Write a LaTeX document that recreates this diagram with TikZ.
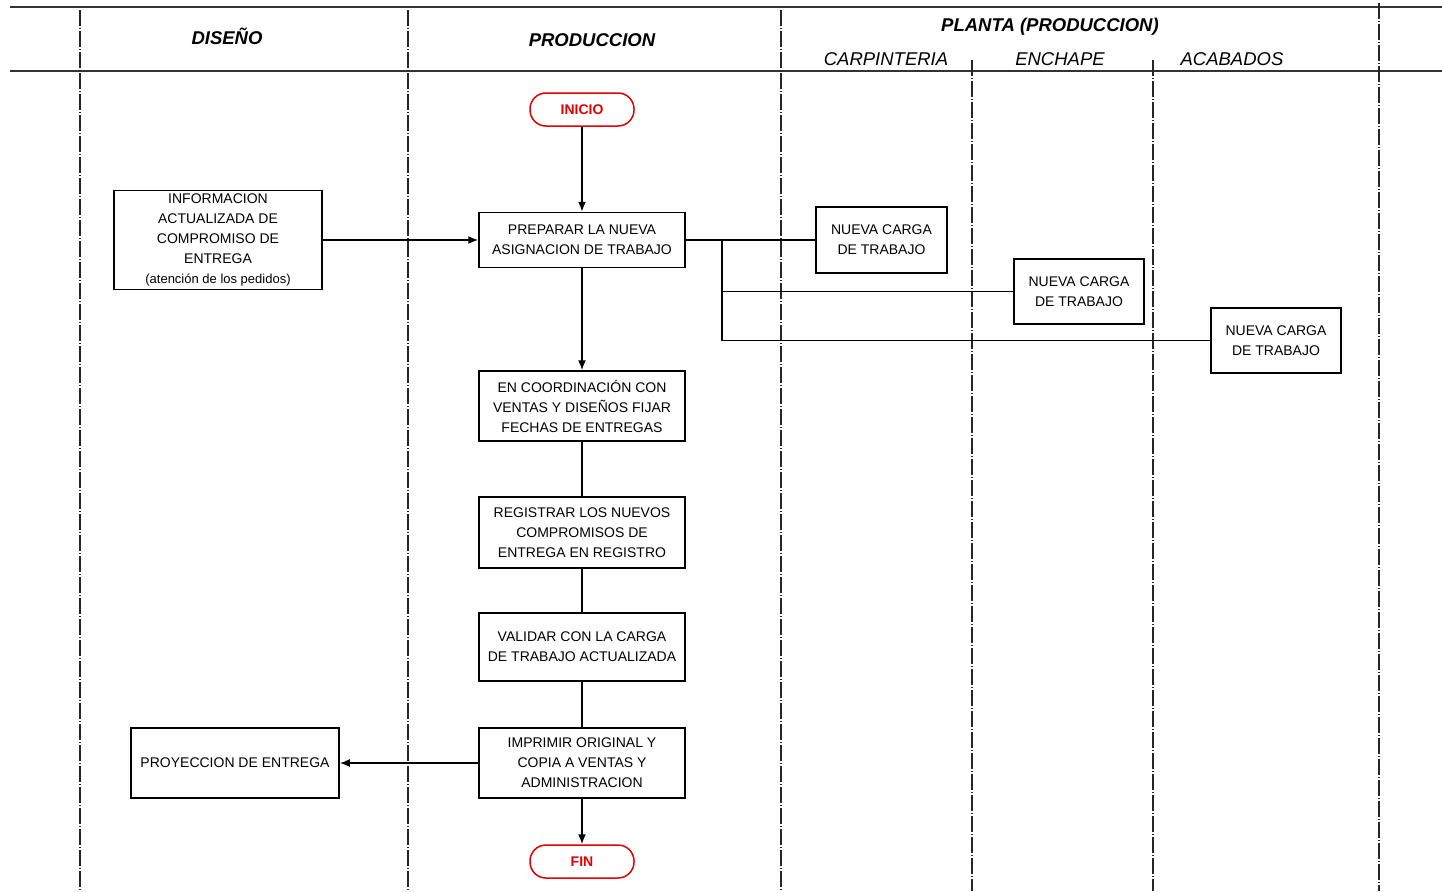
\documentclass[tikz,border=0pt]{standalone}
\usepackage{fontspec}
\setmainfont{Liberation Sans}
\usetikzlibrary{arrows.meta}
\begin{document}
\begin{tikzpicture}[x=1pt,y=-1pt,
  lane/.style={line width=1.6pt, black!85, dash pattern=on 16pt off 2pt on 1pt off 2pt},
  rule/.style={line width=2pt, black!80},
  lanehead/.style={font=\fontsize{18.5}{20}\selectfont\bfseries\itshape},
  subhead/.style={font=\fontsize{18.5}{20}\selectfont\itshape},
  proc/.style={draw, line width=1.5pt, align=center, inner sep=0pt,
    font=\fontsize{14}{20}\selectfont},
  term/.style={draw=red!90!black, text=red!90!black, line width=1.5pt,
    rounded corners=16pt, minimum width=104pt, minimum height=33pt, inner sep=0pt,
    font=\fontsize{14}{16}\selectfont\bfseries},
  link/.style={line width=1.6pt},
  flow/.style={link, -{Latex[length=10pt,width=8pt]}}
]
\useasboundingbox (0,0) rectangle (1442,891);

% header rules and swimlane dividers
\draw[rule] (10,7) -- (1442,7);
\draw[rule] (10,71) -- (1442,71);
\draw[lane] (80,10) -- (80,891);
\draw[lane] (408,10) -- (408,891);
\draw[lane] (781,10) -- (781,891);
\draw[lane] (972,60) -- (972,891);
\draw[lane] (1153,60) -- (1153,891);
\draw[lane] (1379,3) -- (1379,891);

% lane titles
\node[lanehead] (hDis) at (227,36) {DISEÑO};
\node[lanehead] (hProd) at (592,40) {PRODUCCION};
\node[lanehead] (hPlanta) at (1050,27) {PLANTA (PRODUCCION)};
\node[subhead] (hCarp) at (886,59) {CARPINTERIA};
\node[subhead] (hEnch) at (1060,59) {ENCHAPE};
\node[subhead] (hAcab) at (1232,59) {ACABADOS};

% terminals
\node[term] (inicio) at (582,109.5) {INICIO};
\node[term] (fin) at (582,861.5) {FIN};

% process boxes
\node[proc, minimum width=206pt, minimum height=55pt] (prep) at (582,240)
  {PREPARAR LA NUEVA\\ASIGNACION DE TRABAJO};
\node[proc, minimum width=208pt, minimum height=99pt] (info) at (218,240)
  {INFORMACION\\ACTUALIZADA DE\\COMPROMISO DE\\ENTREGA\\{\fontsize{13}{20}\selectfont (atención de los pedidos)}};
\node[proc, minimum width=131pt, minimum height=66pt] (nc1) at (881.5,240)
  {NUEVA CARGA\\DE TRABAJO};
\node[proc, minimum width=130pt, minimum height=65pt] (nc2) at (1079,291.5)
  {NUEVA CARGA\\DE TRABAJO};
\node[proc, minimum width=130pt, minimum height=65pt] (nc3) at (1276,340.5)
  {NUEVA CARGA\\DE TRABAJO};
\node[proc, minimum width=206pt, minimum height=70pt] (coord) at (582,406)
  {EN COORDINACIÓN CON\\VENTAS Y DISEÑOS FIJAR\\FECHAS DE ENTREGAS};
\node[proc, minimum width=206pt, minimum height=71pt] (reg) at (582,532.5)
  {REGISTRAR LOS NUEVOS\\COMPROMISOS DE\\ENTREGA EN REGISTRO};
\node[proc, minimum width=206pt, minimum height=68pt] (val) at (582,647)
  {VALIDAR CON LA CARGA\\DE TRABAJO ACTUALIZADA};
\node[proc, minimum width=206pt, minimum height=70pt] (imp) at (582,763)
  {IMPRIMIR ORIGINAL Y\\COPIA A VENTAS Y\\ADMINISTRACION};
\node[proc, minimum width=208pt, minimum height=70pt] (proy) at (235,763)
  {PROYECCION DE ENTREGA};

% branch point toward the plant areas
\coordinate (tap) at (722,240);

% connectors
\draw[flow] (inicio) -- (prep);
\draw[flow] (info) -- (prep);
\draw[flow] (prep) -- (coord);
\draw[link] (coord) -- (reg);
\draw[link] (reg) -- (val);
\draw[link] (val) -- (imp);
\draw[flow] (imp) -- (proy);
\draw[flow] (imp) -- (fin);
\draw[link] (prep.east) -- (nc1.west);
\draw[link] (tap) |- (nc2.west);
\draw[link] (tap) |- (nc3.west);
\end{tikzpicture}
\end{document}
